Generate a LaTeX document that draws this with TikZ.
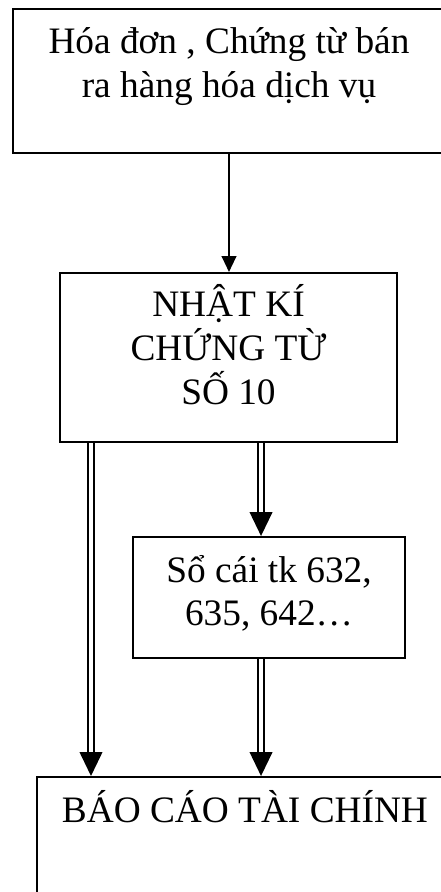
\documentclass[tikz,border=0pt]{standalone}
\usepackage{fontspec}
\setmainfont{Liberation Serif}
\usetikzlibrary{arrows.meta}

% box text: height, width, first baseline, lines
\newcommand{\boxtext}[4]{\parbox[t][#1][t]{#2}{\centering\rule{0pt}{#3}#4}}

\begin{document}
\begin{tikzpicture}[x=0.75pt, y=-0.75pt,
    box/.style={draw, line width=1.5pt, anchor=north west, inner sep=0pt,
                font=\fontsize{28}{33}\selectfont},
    arr/.style={line width=1.6pt, -{Triangle[length=12pt,width=11pt]}},
    dblarr/.style={double, double distance=2.6pt, line width=1.4pt,
                   -{Triangle[length=18pt,width=17pt]}}]
                \useasboundingbox (0,0) rectangle (440,892);

                % Source documents
                \node[box] (hd) at (12,8)
                    {\boxtext{108pt}{324pt}{33.5pt}{Hóa đơn , Chứng từ bán\\ra hàng hóa dịch vụ}};

                % Journal
                \node[box] (nk) at (59,272)
                    {\boxtext{126.75pt}{252.75pt}{32.8pt}{NHẬT KÍ\\CHỨNG TỪ\\SỐ 10}};

                % Ledger
                \node[box] (sc) at (132,536)
                    {\boxtext{90.75pt}{204pt}{34.3pt}{Sổ cái tk 632,\\[-1.3pt]635, 642…}};

                % Reports
                \node[box] (bc) at (36,776)
                    {\boxtext{112.5pt}{312pt}{34.3pt}{BÁO CÁO TÀI CHÍNH}};

                % Flow arrows
                \draw[arr] (hd.south) -- (hd.south |- nk.north);
                \coordinate (lx) at ([xshift=24pt]nk.south west);
                \coordinate (rx) at ([xshift=24.4pt]nk.south);
                \draw[dblarr] (lx) -- (lx |- bc.north);
                \draw[dblarr] (rx) -- (rx |- sc.north);
                \draw[dblarr] (rx |- sc.south) -- (rx |- bc.north);
            \end{tikzpicture}
\end{document}
